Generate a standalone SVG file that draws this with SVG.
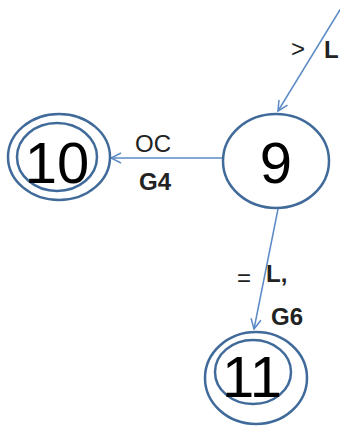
<svg xmlns="http://www.w3.org/2000/svg" width="340" height="426" viewBox="0 0 340 426">
<defs>
<style>
.node{fill:#fff;stroke:#3f6a9a;stroke-width:2.5}
.num{font-family:"Liberation Sans",Arial,sans-serif;font-size:58px;fill:#000;text-anchor:middle}
.edge{stroke:#5b8ac6;stroke-width:1.5;fill:none}
.lbl{font-family:"Liberation Sans",Arial,sans-serif;font-size:24px;fill:#222}
.b{font-weight:bold}
</style>
<marker id="arr" viewBox="0 0 12 12" refX="11" refY="6" markerWidth="12" markerHeight="12" markerUnits="userSpaceOnUse" orient="auto">
<path d="M1,1 L11,6 L1,11" fill="none" stroke="#5b8ac6" stroke-width="1.5"/>
</marker>
</defs>
<g id="connectors">
<line class="edge" x1="346" y1="0" x2="278" y2="111" marker-end="url(#arr)"/>
<line class="edge" x1="223" y1="158" x2="111" y2="158" marker-end="url(#arr)"/>
<line class="edge" x1="278" y1="209" x2="254" y2="329" marker-end="url(#arr)"/>
<text class="lbl" x="291" y="57">&gt;</text>
<text class="lbl b" x="324" y="58">L</text>
<text class="lbl" x="135" y="152">OC</text>
<text class="lbl b" x="139" y="190">G4</text>
<text class="lbl" x="237" y="286">=</text>
<text class="lbl b" x="266" y="282">L,</text>
<text class="lbl b" x="271" y="325">G6</text>
</g>
<g id="node9">
<ellipse class="node" cx="276" cy="161" rx="53" ry="47"/>
<text class="num" x="276" y="183">9</text>
</g>
<g id="node10">
<ellipse class="node" cx="59" cy="157" rx="51" ry="43"/>
<ellipse class="node" cx="57" cy="157" rx="40" ry="34"/>
<text class="num" x="57" y="183">10</text>
</g>
<g id="node11">
<ellipse class="node" cx="256" cy="378" rx="51" ry="46"/>
<ellipse class="node" cx="253" cy="372" rx="38" ry="32"/>
<text class="num" x="252" y="397">11</text>
</g>
</svg>
